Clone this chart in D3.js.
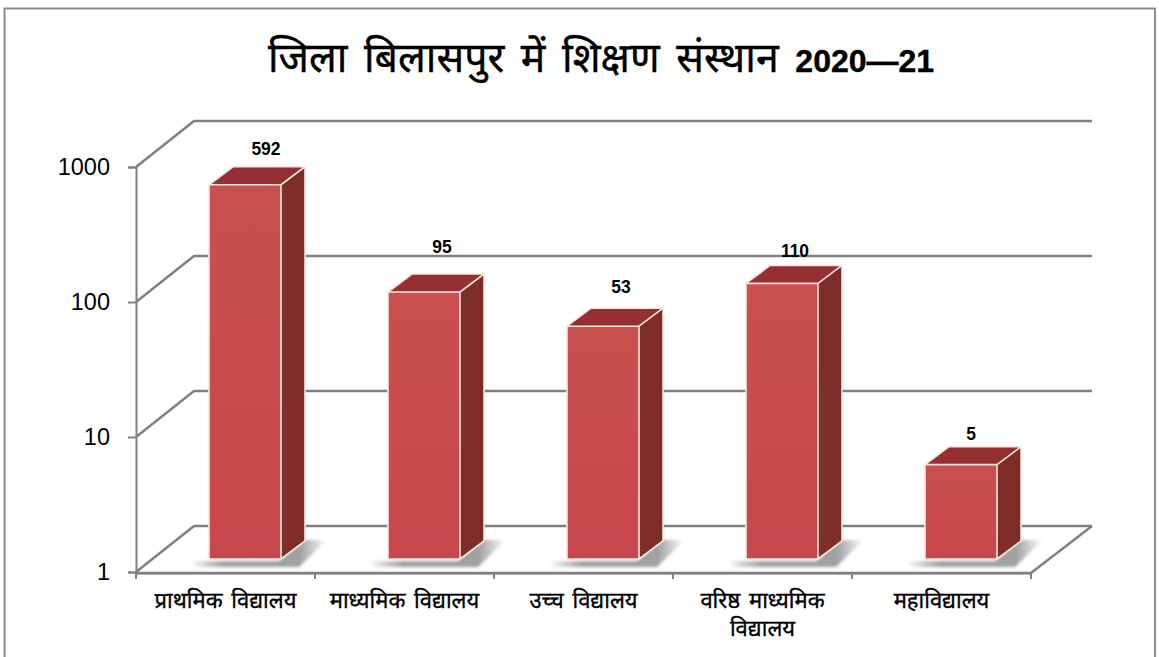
<!DOCTYPE html>
<html>
<head>
<meta charset="utf-8">
<script src="https://cdn.jsdelivr.net/npm/d3@7"></script>
<style>
  html, body { margin: 0; padding: 0; background: #fff; overflow: hidden; }
  svg { display: block; }
  text { fill: #000; font-family: "Noto Sans Devanagari", "Noto Sans", "Liberation Sans", sans-serif; }
  .num { font-family: "Liberation Sans", Arial, sans-serif; }
</style>
</head>
<body>
<svg width="1159" height="657"></svg>
<script>
let titleHi = "जिला बिलासपुर में शिक्षण संस्थान";
let titleYear = "2020—21";
let categories = ["प्राथमिक विद्यालय", "माध्यमिक विद्यालय", "उच्च विद्यालय", "वरिष्ठ माध्यमिक विद्यालय", "महाविद्यालय"];
let values = [592, 95, 53, 110, 5];
let yTicks = [1, 10, 100, 1000];

let svg = d3.select("svg");

let plotL = 136, plotR = 1031, plotB = 572, plotT = 167;
let depthX = 58, depthY = -46;     // wall offset
let floorLift = 13, floorShift = 19.5; // bars stand a bit inside the floor
let barW = 72, barDX = 24, barDY = -18;
let gridColor = "#808080";

let x = d3.scaleBand().domain(categories).range([plotL, plotR]);
let y = d3.scaleLog().domain([1, 1000]).range([plotB, plotT]);

let defs = svg.append("defs");
let grad = defs.append("linearGradient").attr("id", "front").attr("x1", 0).attr("x2", 0).attr("y1", 0).attr("y2", 1);
grad.append("stop").attr("offset", "0%").attr("stop-color", "#c9504e");
grad.append("stop").attr("offset", "100%").attr("stop-color", "#c8474c");
let grad2 = defs.append("linearGradient").attr("id", "side").attr("x1", 0).attr("x2", 1).attr("y1", 0).attr("y2", 0);
grad2.append("stop").attr("offset", "0%").attr("stop-color", "#7d2f2c");
grad2.append("stop").attr("offset", "100%").attr("stop-color", "#802a26");
let grad3 = defs.append("linearGradient").attr("id", "shadow").attr("x1", 0).attr("x2", 1).attr("y1", 0).attr("y2", 0);
grad3.append("stop").attr("offset", "0%").attr("stop-color", "#777").attr("stop-opacity", 0.05);
grad3.append("stop").attr("offset", "25%").attr("stop-color", "#777").attr("stop-opacity", 0.7);
grad3.append("stop").attr("offset", "80%").attr("stop-color", "#777").attr("stop-opacity", 0.7);
grad3.append("stop").attr("offset", "100%").attr("stop-color", "#777").attr("stop-opacity", 0);
defs.append("filter").attr("id", "soft").append("feGaussianBlur").attr("stdDeviation", 1.6);

// outer frame, bottom edge runs off the page
svg.append("path")
  .attr("d", "M4.5,670V8.5H1155V670")
  .attr("fill", "none").attr("stroke", "#8c8c8c").attr("stroke-width", 2);

svg.append("text")
  .attr("x", 601).attr("y", 72)
  .attr("text-anchor", "middle")
  .style("font-size", "41px")
  .style("word-spacing", "6px")
  .style("stroke", "#000")
  .style("stroke-width", "0.4px")
  .text(titleHi + " ")
  .append("tspan").attr("class", "num")
  .style("font-weight", "bold").style("font-size", "32px")
  .text(titleYear);

// walls and floor
let grid = svg.append("g").attr("fill", "none").attr("stroke", gridColor).attr("stroke-width", 2.5);
yTicks.forEach(t => {
  grid.append("path").attr("d", d3.line()([
    [plotL, y(t)],
    [plotL + depthX, y(t) + depthY],
    [plotR + depthX + 3, y(t) + depthY]
  ]));
});
grid.append("path").attr("d", d3.line()([
  [plotL, plotB + 1], [plotR, plotB + 1], [plotR + depthX + 3, plotB + depthY]
]));

// axes
let yAxis = svg.append("g").attr("transform", `translate(${plotL},0)`)
  .call(d3.axisLeft(y).tickValues(yTicks).tickFormat(d3.format("d")).tickSize(8).tickPadding(18));
yAxis.selectAll("text").attr("class", "num").style("font-size", "23.5px");
let xAxis = svg.append("g").attr("transform", `translate(0,${plotB + 1})`)
  .call(d3.axisBottom(x).tickSize(0).tickPadding(19));
xAxis.selectAll(".tick line").remove();
xAxis.selectAll("text")
  .style("font-size", "22px")
  .style("stroke", "#000")
  .style("stroke-width", "0.35px")
  .style("word-spacing", "3px")
  .each(function(d) {
    // long names break on to a second line like the original
    let words = d.split(" ");
    let el = d3.select(this).text(null);
    if (words.length > 2) {
      el.append("tspan").attr("x", 0).text(words.slice(0, 2).join(" "));
      el.append("tspan").attr("x", 0).attr("dy", 28).text(words.slice(2).join(" "));
    } else {
      el.text(d);
    }
  });
// category boundary ticks
xAxis.selectAll(".edge").data(d3.range(categories.length + 1)).join("line")
  .attr("class", "edge")
  .attr("x1", i => plotL + i * x.step()).attr("x2", i => plotL + i * x.step())
  .attr("y1", 0).attr("y2", 6);
svg.selectAll(".domain, .tick line, .edge").attr("stroke", gridColor).attr("stroke-width", 2);

// bars
let labelNudge = [[21, -30], [18, -39], [18, -33], [13, -26], [10, -25]];
let bars = svg.selectAll(".bar").data(values).join("g").attr("class", "bar");
bars.each(function(v, i) {
  let g = d3.select(this);
  let x0 = x(categories[i]) + x.bandwidth() / 2 + floorShift - barW / 2;
  let x1 = x0 + barW;
  let yb = y(1) - floorLift;
  let yt = y(v) - floorLift;
  let line = d3.line();
  g.append("path")
    .attr("d", line([[x0 - 18, yb + 2], [x1 - 2, yb + 2], [x1 + 22, yb - 19], [x1 + 46, yb - 19], [x1 + 18, yb + 8], [x0 - 12, yb + 8]]) + "Z")
    .attr("fill", "url(#shadow)").attr("filter", "url(#soft)");
  g.append("path")
    .attr("d", line([[x1, yt], [x1 + barDX, yt + barDY], [x1 + barDX, yb + barDY], [x1, yb]]) + "Z")
    .attr("fill", "url(#side)");
  g.append("path")
    .attr("d", line([[x0, yt], [x0 + barDX, yt + barDY], [x1 + barDX, yt + barDY], [x1, yt]]) + "Z")
    .attr("fill", "#952f33");
  g.append("rect")
    .attr("x", x0).attr("y", yt).attr("width", barW).attr("height", yb - yt)
    .attr("fill", "url(#front)");
  g.append("path")
    .attr("d", `M${x0},${yb}V${yt}H${x1}V${yb}Z M${x0},${yt}L${x0 + barDX},${yt + barDY}H${x1 + barDX}L${x1},${yt} M${x1 + barDX},${yt + barDY}V${yb + barDY}L${x1},${yb}`)
    .attr("fill", "none").attr("stroke", "#f6e8dc").attr("stroke-width", 1.6).attr("stroke-linejoin", "round");
  g.append("text").attr("class", "num")
    .attr("x", x0 + barW / 2 + labelNudge[i][0])
    .attr("y", yt + labelNudge[i][1])
    .attr("text-anchor", "middle")
    .style("font-size", "17.5px").style("font-weight", "bold")
    .text(v);
});
</script>
</body>
</html>
